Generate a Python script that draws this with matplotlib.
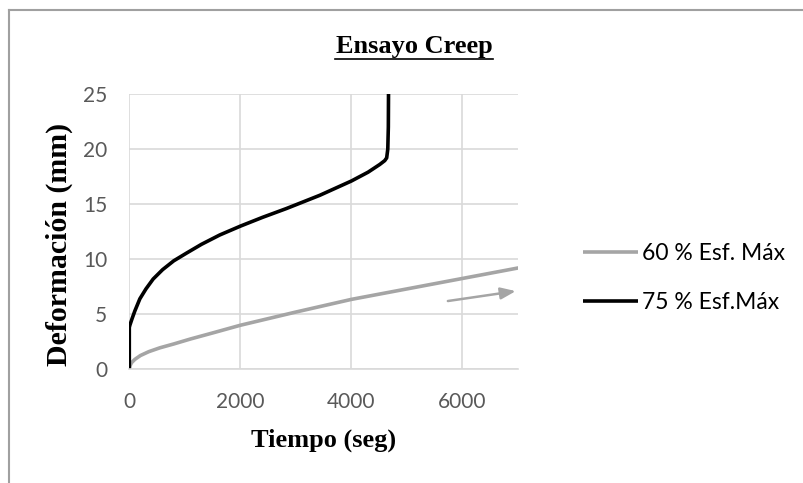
import matplotlib
matplotlib.use("Agg")
import matplotlib.pyplot as plt
from matplotlib.lines import Line2D

# Data
t60 = [0, 10, 40, 100, 200, 350, 550, 800, 1100, 1500, 2000, 3000, 4000, 5000, 6000, 7000, 7200]
d60 = [0, 0.3, 0.6, 0.9, 1.25, 1.6, 1.95, 2.3, 2.75, 3.3, 4.0, 5.2, 6.35, 7.3, 8.25, 9.2, 9.38]
t75 = [0, 0, 10, 50, 100, 190, 300, 430, 600, 800, 1030, 1300, 1630, 2000, 2400, 2830,
       3430, 4000, 4300, 4510, 4600, 4635, 4655, 4665, 4668]
d75 = [0, 3.8, 4.0, 4.6, 5.3, 6.4, 7.3, 8.2, 9.05, 9.85, 10.55, 11.35, 12.2, 13.0, 13.8, 14.6,
       15.8, 17.1, 17.9, 18.6, 18.95, 19.2, 20, 22, 25]
label60 = "60 % Esf. Máx"
label75 = "75 % Esf.Máx"
xticks = [0, 2000, 4000, 6000]
yticks = [0, 5, 10, 15, 20, 25]
arrow_start = (5737, 6.2)
arrow_end = (6960, 7.1)

W, H = 804, 483
fig = plt.figure(figsize=(W / 100, H / 100), dpi=100)
ax = fig.add_axes([129.3 / W, 1 - 369.3 / H, (518 - 129.3) / W, (369.3 - 94) / H])

gray = "#a5a5a5"
ax.plot(t60, d60, color=gray, lw=2.6, label=label60, solid_capstyle="butt")
ax.plot(t75, d75, color="black", lw=2.6, label=label75, solid_capstyle="butt")
ax.annotate("", xy=arrow_end, xytext=arrow_start,
            arrowprops=dict(arrowstyle="-|>,head_length=0.9,head_width=0.35",
                            color=gray, lw=1.8, shrinkA=0, shrinkB=0))

ax.set_xlim(0, 7000)
ax.set_ylim(0, 25)
ax.set_xticks(xticks)
ax.set_yticks(yticks)
ax.grid(True, color="#d9d9d9", lw=1.2)
ax.set_axisbelow(True)
for s in ["top", "right", "left"]:
    ax.spines[s].set_visible(False)
ax.spines["bottom"].set_color("#d9d9d9")
ax.spines["bottom"].set_linewidth(1.2)
ax.tick_params(length=0, labelsize=15, labelcolor="#595959")
for lab in ax.get_xticklabels() + ax.get_yticklabels():
    lab.set_family("Lato")
ax.tick_params(axis="x", pad=16)
ax.tick_params(axis="y", pad=16)

serif = "Liberation Serif"
ax.set_xlabel("Tiempo (seg)", family=serif, weight="bold", fontsize=19, labelpad=12)
ax.set_ylabel("Deformación (mm)", family=serif, weight="bold", fontsize=21.5)
ax.yaxis.set_label_coords(-0.145, 0.455)

fig.text(414 / W, 1 - 47 / H, "Ensayo Creep", family=serif, weight="bold",
         fontsize=19, ha="center", va="center")
fig.add_artist(Line2D([335 / W, 493 / W], [1 - 59 / H, 1 - 59 / H],
                      color="black", lw=1.2, transform=fig.transFigure))

leg = ax.legend(loc="center left", bbox_to_anchor=(562 / W, 1 - 278 / H),
                bbox_transform=fig.transFigure, frameon=False,
                prop={"family": "Lato", "size": 16.5}, handlelength=2.4,
                handletextpad=0.2, labelspacing=1.2)

# chart border (top and left)
fig.add_artist(Line2D([9.5 / W, 1], [1 - 9.5 / H, 1 - 9.5 / H], color="#a0a0a0",
                      lw=1.5, transform=fig.transFigure))
fig.add_artist(Line2D([9.5 / W, 9.5 / W], [0, 1 - 9.5 / H], color="#a0a0a0",
                      lw=1.5, transform=fig.transFigure))

fig.savefig("out.png", dpi=100)
